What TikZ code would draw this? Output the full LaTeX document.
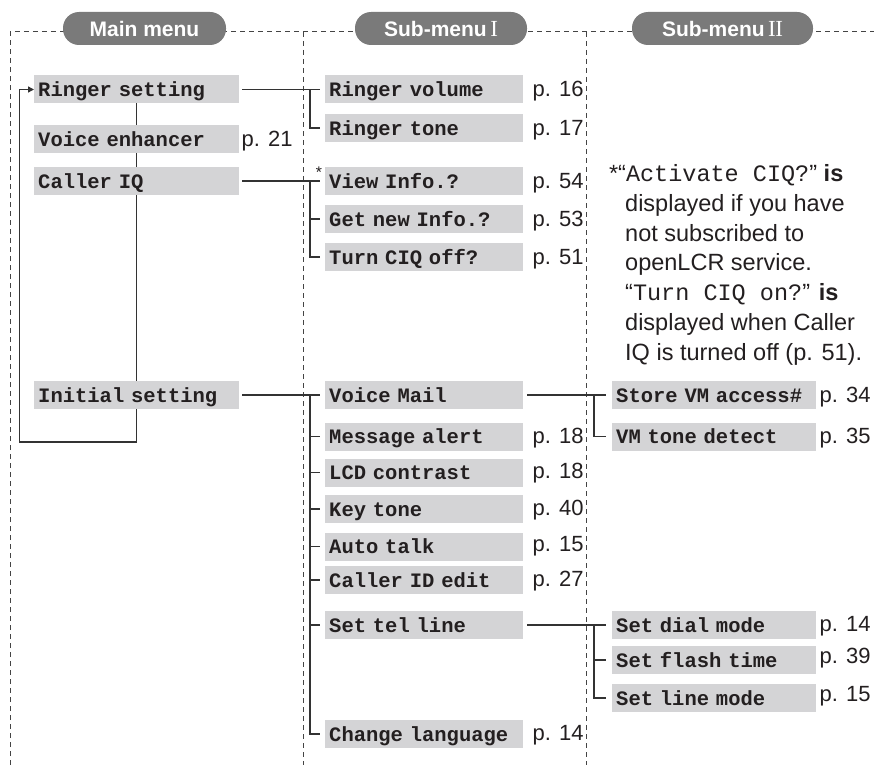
\documentclass[tikz,border=0pt]{standalone}
\usepackage{fontspec}
\setmainfont{Liberation Sans}
\newfontfamily\monof{Liberation Mono}[WordSpace={1,0,0}]
\newfontfamily\romf{Liberation Serif}
\usetikzlibrary{backgrounds,calc,arrows.meta}
\definecolor{boxgray}{HTML}{D4D4D6}
\definecolor{pillgray}{HTML}{7A7A7A}
\definecolor{ink}{HTML}{231F20}
\definecolor{linec}{HTML}{333333}
\definecolor{dashc}{HTML}{444444}
\begin{document}
\begin{tikzpicture}[x=1pt,y=-1pt,
  mbox/.style={fill=boxgray, anchor=west, minimum height=28pt, inner xsep=4pt, inner ysep=5pt,
    text height=16pt, text depth=2pt, align=left, text width=#1,
    font=\monof\bfseries\fontsize{20.5}{24}\selectfont, text=ink},
  mainbox/.style={mbox=197pt},
  subone/.style={mbox=190pt},
  subtwo/.style={mbox=196pt},
  plabel/.style={anchor=west, inner sep=0pt, text height=16pt, text depth=2pt,
    font=\fontsize{22}{24}\selectfont, text=ink},
  pill/.style={fill=pillgray, rounded corners=16pt, minimum height=33pt, inner sep=0pt,
    text=white, font=\bfseries\fontsize{21}{24}\selectfont},
  conn/.style={draw=linec, line width=1.4pt},
  dashline/.style={draw=dashc, line width=1pt, dash pattern=on 5pt off 4pt},
]
\useasboundingbox (0,0) rectangle (874,765);

% headers
\node[pill, minimum width=163pt] (hmain) at (144.5,28.5) {Main menu};
\node[pill, minimum width=172pt] (hsubone) at (441,28.5) {Sub-menu\,{\romf\mdseries\fontsize{23}{24}\selectfont I}};
\node[pill, minimum width=181pt] (hsubtwo) at (722.5,28.5) {Sub-menu\,{\romf\mdseries\fontsize{23}{24}\selectfont I\kern-0.6pt I}};

% main menu
\node[mainbox] (R)   at (34,89.5) {Ringer setting};
\node[mainbox] (VE)  at (34,139)  {Voice enhancer};
\node[mainbox] (CIQ) at (34,181)  {Caller IQ};
\node[mainbox] (IS)  at (34,395)  {Initial setting};
\node[plabel] (pVE) at ($(VE.east)+(2,0)$) {p. 21};

% sub-menu I
\node[subone] (RV)  at (325,89.5) {Ringer volume};
\node[subone] (RT)  at (325,128)  {Ringer tone};
\node[subone] (VI)  at (325,181)  {View Info.?};
\node[subone] (GI)  at (325,219)  {Get new Info.?};
\node[subone] (TC)  at (325,257)  {Turn CIQ off?};
\node[subone] (VM)  at (325,395)  {Voice Mail};
\node[subone] (MA)  at (325,436.5) {Message alert};
\node[subone] (LCD) at (325,472.5) {LCD contrast};
\node[subone] (KT)  at (325,509)  {Key tone};
\node[subone] (AT)  at (325,546.5) {Auto talk};
\node[subone] (CID) at (325,580)  {Caller ID edit};
\node[subone] (STL) at (325,625)  {Set tel line};
\node[subone] (CL)  at (325,734)  {Change language};
\node[font=\monof\fontsize{16}{16}\selectfont, inner sep=0pt, text=ink] (ast) at (319,173) {*};

\node[plabel] (pRV)  at ($(RV.east)+(9,0)$)  {p. 16};
\node[plabel] (pRT)  at ($(RT.east)+(9,0)$)  {p. 17};
\node[plabel] (pVI)  at ($(VI.east)+(9,0)$)  {p. 54};
\node[plabel] (pGI)  at ($(GI.east)+(9,0)$)  {p. 53};
\node[plabel] (pTC)  at ($(TC.east)+(9,0)$)  {p. 51};
\node[plabel] (pMA)  at ($(MA.east)+(9,0)$)  {p. 18};
\node[plabel] (pLCD) at ($(LCD.east)+(9,-1)$) {p. 18};
\node[plabel] (pKT)  at ($(KT.east)+(9,-1)$)  {p. 40};
\node[plabel] (pAT)  at ($(AT.east)+(9,-2)$)  {p. 15};
\node[plabel] (pCID) at ($(CID.east)+(9,-1)$) {p. 27};
\node[plabel] (pCL)  at ($(CL.east)+(9,-1)$)  {p. 14};

% sub-menu II
\node[subtwo] (SVM) at (612,395)  {Store VM access\#};
\node[subtwo] (VT)  at (612,436.5) {VM tone detect};
\node[subtwo] (SDM) at (612,625)  {Set dial mode};
\node[subtwo] (SFT) at (612,660)  {Set flash time};
\node[subtwo] (SLM) at (612,698)  {Set line mode};
\node[plabel] (pSVM) at ($(SVM.east)+(3,0)$) {p. 34};
\node[plabel] (pVT)  at ($(VT.east)+(3,0)$)  {p. 35};
\node[plabel] (pSDM) at ($(SDM.east)+(3,-1)$) {p. 14};
\node[plabel] (pSFT) at ($(SFT.east)+(3,-4)$) {p. 39};
\node[plabel] (pSLM) at ($(SLM.east)+(3,-4)$) {p. 15};

% note (base anchor = last line)
\node[anchor=base west, align=left, inner sep=0pt, font=\fontsize{23.5}{29.7}\selectfont, text=ink] (note) at (625,360)
{\kern-7pt\llap{*}“{\monof Activate CIQ?}” {\bfseries is}\\
displayed if you have\\
not subscribed to\\
openLCR service.\\
“{\monof Turn CIQ on?}” {\bfseries is}\\
displayed when Caller\\
IQ is turned off (p. 51).};

\begin{pgfonlayer}{background}
  \draw[dashline] (10,765) -- (10,32) -- (874,32);
  \draw[dashline] (303,32) -- (303,765);
  \draw[dashline] (586,32) -- (586,765);

  % main loop
  \coordinate (lb) at ($(IS.center)+(0,47)$);
  \coordinate (ll) at ($(lb)+(-117.5,0)$);
  \draw[conn, -{Triangle[length=6pt,width=6pt]}] (R.center) -- (lb) -- (ll) |- (R.west);

  % ringer setting
  \draw[conn, shorten <=3pt, shorten >=5pt] (R.east) -- (R.east -| RV.west);
  \coordinate (jA) at ($(R.east -| RV.west)+(-15,0)$);
  \draw[conn, shorten >=5pt] (jA) |- (RT.west);

  % caller IQ
  \draw[conn, shorten <=3pt, shorten >=5pt] (CIQ.east) -- (CIQ.east -| VI.west);
  \coordinate (jB) at ($(CIQ.east -| VI.west)+(-15,0)$);
  \draw[conn, shorten >=5pt] (jB) |- (TC.west);
  \draw[conn, shorten >=5pt] (jB |- GI.west) -- (GI.west);

  % initial setting
  \draw[conn, shorten <=3pt, shorten >=5pt] (IS.east) -- (IS.east -| VM.west);
  \coordinate (jC) at ($(IS.east -| VM.west)+(-15,0)$);
  \draw[conn, shorten >=5pt] (jC) |- (CL.west);
  \foreach \n in {MA,LCD,KT,AT,CID,STL}
    \draw[conn, shorten >=5pt] (jC |- \n.west) -- (\n.west);

  % voice mail
  \draw[conn, shorten <=4pt, shorten >=6pt] (VM.east) -- (VM.east -| SVM.west);
  \coordinate (jD) at ($(VM.east -| SVM.west)+(-18,0)$);
  \draw[conn, shorten >=6pt] (jD) |- (VT.west);

  % set tel line
  \draw[conn, shorten <=4pt, shorten >=6pt] (STL.east) -- (STL.east -| SDM.west);
  \coordinate (jE) at ($(STL.east -| SDM.west)+(-18,0)$);
  \draw[conn, shorten >=6pt] (jE) |- (SLM.west);
  \draw[conn, shorten >=6pt] (jE |- SFT.west) -- (SFT.west);
\end{pgfonlayer}
\end{tikzpicture}
\end{document}
